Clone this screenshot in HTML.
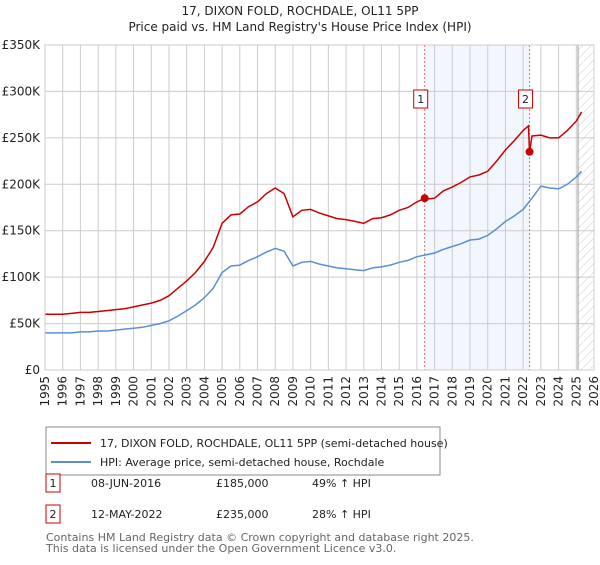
<!DOCTYPE html>
<html><head><meta charset="utf-8"><style>
body{margin:0;background:#fff;font-family:"Liberation Sans","DejaVu Sans",sans-serif;}
svg text{font-family:"DejaVu Sans","Liberation Sans",sans-serif;}
</style></head><body>
<svg id="chart" width="600" height="560" viewBox="0 0 600 560">
<defs><pattern id="hatch" width="6" height="6" patternUnits="userSpaceOnUse" patternTransform="rotate(45)"><line x1="0" y1="0" x2="0" y2="6" stroke="#ccc" stroke-width="1"/></pattern></defs>
<text x="300" y="15" text-anchor="middle" font-size="12" fill="#222">17, DIXON FOLD, ROCHDALE, OL11 5PP</text>
<text x="300" y="31" text-anchor="middle" font-size="12" fill="#222">Price paid vs. HM Land Registry's House Price Index (HPI)</text>
<g id="plot"></g>
<rect x="46" y="427" width="394" height="48" fill="#fff" stroke="#888"/>
<line x1="51" y1="443" x2="91" y2="443" stroke="#cc0000" stroke-width="2"/>
<text x="100" y="447" font-size="11" fill="#222">17, DIXON FOLD, ROCHDALE, OL11 5PP (semi-detached house)</text>
<line x1="51" y1="462" x2="91" y2="462" stroke="#5b8fd4" stroke-width="2"/>
<text x="100" y="466" font-size="11" fill="#222">HPI: Average price, semi-detached house, Rochdale</text>
<g>
<rect x="46" y="474" width="14" height="18" fill="#fff" stroke="#cc0000"/>
<text x="53" y="487" text-anchor="middle" font-size="11" fill="#222">1</text>
<text x="91" y="487" font-size="11" fill="#222">08-JUN-2016</text>
<text x="216" y="487" font-size="11" fill="#222">£185,000</text>
<text x="312" y="487" font-size="11" fill="#222">49% ↑ HPI</text></g>
<g>
<rect x="46" y="505" width="14" height="18" fill="#fff" stroke="#cc0000"/>
<text x="53" y="518" text-anchor="middle" font-size="11" fill="#222">2</text>
<text x="91" y="518" font-size="11" fill="#222">12-MAY-2022</text>
<text x="216" y="518" font-size="11" fill="#222">£235,000</text>
<text x="312" y="518" font-size="11" fill="#222">28% ↑ HPI</text></g>
<text x="46" y="541" font-size="11" fill="#666">Contains HM Land Registry data © Crown copyright and database right 2025.</text>
<text x="46" y="552" font-size="11" fill="#666">This data is licensed under the Open Government Licence v3.0.</text>
</svg>
<script>
const hpiYears=[1995,1995.5,1996,1996.5,1997,1997.5,1998,1998.5,1999,1999.5,2000,2000.5,2001,2001.5,2002,2002.5,2003,2003.5,2004,2004.5,2005,2005.5,2006,2006.5,2007,2007.5,2008,2008.5,2009,2009.5,2010,2010.5,2011,2011.5,2012,2012.5,2013,2013.5,2014,2014.5,2015,2015.5,2016,2016.5,2017,2017.5,2018,2018.5,2019,2019.5,2020,2020.5,2021,2021.5,2022,2022.5,2023,2023.5,2024,2024.5,2025,2025.3];
const hpiValues=[40,40,40,40,41,41,42,42,43,44,45,46,48,50,53,58,64,70,78,88,105,112,113,118,122,127,131,128,112,116,117,114,112,110,109,108,107,110,111,113,116,118,122,124,126,130,133,136,140,141,145,152,160,166,173,185,198,196,195,200,208,214];
const priceYears=[1995,1995.5,1996,1996.5,1997,1997.5,1998,1998.5,1999,1999.5,2000,2000.5,2001,2001.5,2002,2002.5,2003,2003.5,2004,2004.5,2005,2005.5,2006,2006.5,2007,2007.5,2008,2008.5,2009,2009.5,2010,2010.5,2011,2011.5,2012,2012.5,2013,2013.5,2014,2014.5,2015,2015.5,2016,2016.44,2016.5,2017,2017.5,2018,2018.5,2019,2019.5,2020,2020.5,2021,2021.5,2022,2022.3,2022.36,2022.5,2023,2023.5,2024,2024.5,2025,2025.3];
const priceValues=[60,60,60,61,62,62,63,64,65,66,68,70,72,75,80,88,96,105,117,132,158,167,168,176,181,190,196,190,165,172,173,169,166,163,162,160,158,163,164,167,172,175,181,185,184,185,193,197,202,208,210,214,225,237,247,258,263,235,252,253,250,250,258,268,278];
const saleYears=[2016.44,2022.36];
const saleValues=[185,235];
const saleLabels=["1","2"];
const yTicks=[0,50,100,150,200,250,300,350];
const xTicks=[1995,1996,1997,1998,1999,2000,2001,2002,2003,2004,2005,2006,2007,2008,2009,2010,2011,2012,2013,2014,2015,2016,2017,2018,2019,2020,2021,2022,2023,2024,2025,2026];
const X0=45,X1=594,Y0=370,Y1=45;
const xs=y=>X0+(y-1995)/(2026-1995)*(X1-X0);
const ys=v=>Y0-v/350*(Y0-Y1);
const NS="http://www.w3.org/2000/svg";
const g=document.getElementById('plot');
function mk(t,a){const e=document.createElementNS(NS,t);for(const k in a)e.setAttribute(k,a[k]);g.appendChild(e);return e;}
let e=mk('rect',{x:xs(saleYears[0]),y:Y1,width:xs(saleYears[1])-xs(saleYears[0]),height:Y0-Y1,fill:'#f2f6fd'});


e=mk('rect',{x:xs(2025.1),y:Y1,width:X1-xs(2025.1),height:Y0-Y1,fill:'url(#hatch)'});


xTicks.forEach(t=>{
 const l=mk('line',{x1:xs(t),x2:xs(t),y1:Y1,y2:Y0,stroke:'#ccc','stroke-width':1});
 
 
 const tx=mk('text',{x:0,y:0,'font-size':12,fill:'#222','text-anchor':'end',transform:`translate(${xs(t)+4},376) rotate(-90)`});
 tx.textContent=t;
 
 
});
yTicks.forEach(t=>{
 const l=mk('line',{x1:X0,x2:X1,y1:ys(t),y2:ys(t),stroke:'#ccc','stroke-width':1});
 
 
 const tx=mk('text',{x:40,y:ys(t)+4,'font-size':12,fill:'#222','text-anchor':'end'});
 tx.textContent=t===0?'£0':'£'+t+'K';
 
 
});
e=mk('line',{x1:xs(2025.1),x2:xs(2025.1),y1:Y1,y2:Y0,stroke:'#999','stroke-width':1});


saleYears.forEach((s,i)=>{
 const l=mk('line',{x1:xs(s),x2:xs(s),y1:Y1,y2:Y0,stroke:'#e66','stroke-width':1,'stroke-dasharray':'2,2'});
 
 
});
const path=(xa,va)=>xa.map((x,i)=>(i?'L':'M')+xs(x).toFixed(1)+','+ys(va[i]).toFixed(1)).join('');
e=mk('path',{d:path(hpiYears,hpiValues),fill:'none',stroke:'#5b8fd4','stroke-width':1.5});


e=mk('path',{d:path(priceYears,priceValues),fill:'none',stroke:'#cc0000','stroke-width':1.5});


saleYears.forEach((s,i)=>{
 const c=mk('circle',{cx:xs(s),cy:ys(saleValues[i]),r:4,fill:'#cc0000'});
 
 
 const r=mk('rect',{x:xs(s)-11,y:90,width:14,height:18,fill:'#fff',stroke:'#cc0000'});
 
 
 const t=mk('text',{x:xs(s)-4,y:103,'font-size':11,fill:'#222','text-anchor':'middle'});
 t.textContent=saleLabels[i];
 
 
});
e=mk('rect',{x:X0,y:Y1,width:X1-X0,height:Y0-Y1,fill:'none',stroke:'#ccc'});


</script>
</body></html>
